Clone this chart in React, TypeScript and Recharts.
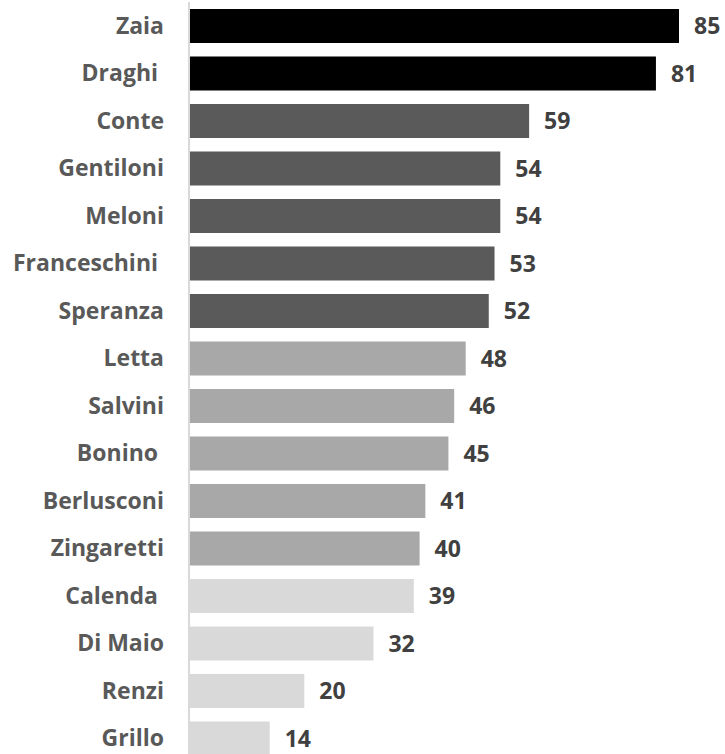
import { BarChart, Bar, XAxis, YAxis, Cell, LabelList } from 'recharts'

const NAMES = [
  'Zaia', 'Draghi\u00a0', 'Conte', 'Gentiloni', 'Meloni', 'Franceschini\u00a0', 'Speranza',
  'Letta', 'Salvini', 'Bonino\u00a0', 'Berlusconi', 'Zingaretti', 'Calenda\u00a0',
  'Di Maio', 'Renzi', 'Grillo',
]
const VALUES = [85, 81, 59, 54, 54, 53, 52, 48, 46, 45, 41, 40, 39, 32, 20, 14]
// shade group of each bar (0 = darkest)
const TIERS = [0, 0, 1, 1, 1, 1, 1, 2, 2, 2, 2, 2, 3, 3, 3, 3]

const TIER_COLORS = ['#000000', '#5a5a5a', '#a8a8a8', '#d9d9d9']

const FONT = '"Open Sans", Lato, sans-serif'

export default function App() {
  const chartData = NAMES.map((name, i) => ({
    name,
    value: VALUES[i],
    color: TIER_COLORS[TIERS[i]],
  }))

  return (
    <div style={{ position: 'absolute', left: 0, top: 0, width: 725, height: 754, overflow: 'hidden', background: '#fff' }}>
      <BarChart
        width={725}
        height={764}
        data={chartData}
        layout="vertical"
        margin={{ top: 2, right: 46, left: 0, bottom: 2 }}
      >
        <XAxis type="number" domain={[0, 'dataMax']} hide />
        <YAxis
          type="category"
          dataKey="name"
          width={189}
          axisLine={{ stroke: '#d9d9d9', strokeWidth: 2 }}
          tickLine={false}
          tickMargin={19}
          tick={{ fill: '#595959', fontSize: 23, fontWeight: 700, fontFamily: FONT }}
          interval={0}
        />
        <Bar dataKey="value" barSize={34} isAnimationActive={false}>
          {chartData.map((entry, i) => (
            <Cell key={i} fill={entry.color} />
          ))}
          <LabelList
            dataKey="value"
            position="right"
            offset={15}
            style={{ fill: '#404040', fontSize: 23, fontWeight: 700, fontFamily: FONT }}
          />
        </Bar>
      </BarChart>
    </div>
  )
}
